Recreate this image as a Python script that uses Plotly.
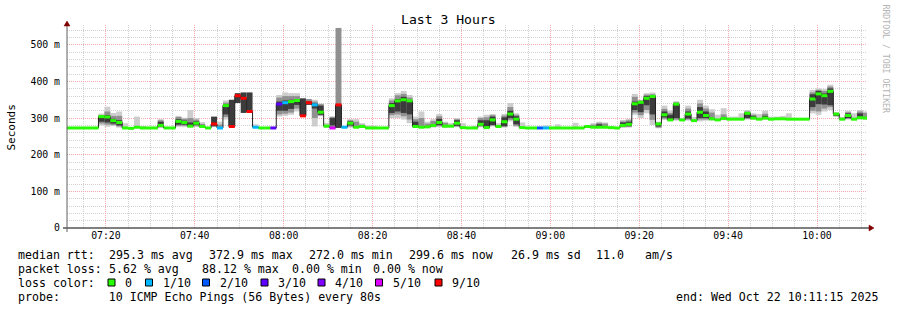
import plotly.graph_objects as go
from datetime import datetime, timedelta

N = None
title_text = "Last 3 Hours"
y_label = "Seconds"
side_text = "RRDTOOL / TOBI OETIKER"
start_time = datetime(2025, 10, 22, 7, 10, 20)
step_seconds = 80
view_start = datetime(2025, 10, 22, 7, 11, 15)
view_end = datetime(2025, 10, 22, 10, 11, 15)

y_tick_vals = [0, 100, 200, 300, 400, 500]
y_tick_text = ["0", "100 m", "200 m", "300 m", "400 m", "500 m"]

# median rtt per 80 s sample (ms)
median = [
    273, 273, 273, 273, 273, 273, 304, 303, 293, 288,
    273, 272, 275, 273, 273, 273, 280, 273, 273, 291,
    288, 278, 286, 277, 273, 284, 273, 334, 277, 361,
    354, 318, 275, 273, 273, 273, 338, 342, 345, 348,
    306, 342, 336, 316, 278, 273, 336, 275, 286, 275,
    277, 273, 273, 273, 273, 334, 347, 350, 347, 277,
    275, 276, 280, 288, 278, 278, 286, 274, 273, 273,
    283, 274, 295, 277, 290, 311, 297, 274, 273, 273,
    273, 273, 273, 273, 273, 273, 273, 273, 277, 275,
    275, 275, 274, 273, 280, 283, 339, 343, 354, 359,
    284, 309, 295, 338, 295, 311, 293, 316, 307, 298,
    295, 299, 297, 297, 297, 313, 300, 297, 300, 297,
    298, 298, 297, 297, 297, 297, 352, 366, 361, 373,
    311, 297, 307, 297, 301, 300,
]

# lost pings out of 10 per sample
loss = [
    0, 0, 0, 0, 0, 0, 0, 0, 0, 0,
    0, 0, 0, 0, 0, 0, 0, 0, 0, 0,
    0, 0, 0, 0, 0, 9, 1, 0, 9, 9,
    9, 9, 1, 0, 0, 3, 3, 1, 0, 0,
    9, 9, 1, 0, 0, 5, 9, 1, 0, 0,
    0, 0, 0, 0, 0, 0, 0, 0, 0, 0,
    0, 0, 0, 0, 0, 0, 0, 0, 0, 0,
    0, 0, 0, 0, 0, 0, 0, 0, 0, 0,
    2, 1, 0, 0, 0, 0, 0, 0, 0, 0,
    0, 0, 0, 0, 0, 0, 0, 0, 0, 0,
    0, 0, 0, 0, 0, 0, 0, 0, 0, 0,
    0, 0, 0, 0, 0, 0, 0, 0, 0, 0,
    0, 0, 0, 0, 0, 0, 0, 0, 0, 0,
    0, 0, 0, 0, 0, 0,
]

# outer (light) smoke band
light_lo = [
    N, N, N, N, N, N, 280, 276, 278, 274,
    273, N, 273, 273, N, N, 273, N, N, 276,
    276, 274, 276, 274, N, N, 273, 296, N, N,
    N, N, 273, N, N, N, 304, 306, 309, 318,
    N, N, 277, 305, 273, N, N, N, 274, 273,
    273, 273, 273, N, N, 300, 300, 296, 286, 273,
    273, 273, 274, 275, 274, 274, 275, 273, N, 273,
    275, 273, 277, 274, 274, 291, 276, 273, N, N,
    N, 273, N, 273, N, N, 273, N, 273, 273,
    273, 273, N, N, 274, 274, 309, 300, 313, 281,
    272, 295, 293, 293, 295, 293, 293, 291, 293, 293,
    294, 294, 295, 295, 295, 296, 296, 296, 296, 296,
    296, 296, 296, 296, N, N, 313, 309, 318, 322,
    304, 296, 296, 296, 296, 296,
]
light_hi = [
    N, N, N, N, N, N, 312, 331, 314, 318,
    286, N, 304, 277, N, N, 297, N, N, 306,
    301, 322, 300, 289, N, N, 290, 348, N, N,
    N, N, 283, N, N, N, 363, 370, 368, 368,
    N, N, 350, 340, 287, N, N, N, 297, 297,
    286, 280, 279, N, N, 354, 368, 374, 363, 304,
    318, 290, 297, 311, 290, 286, 300, 286, N, 279,
    304, 309, 311, 286, 311, 341, 313, 288, N, N,
    N, 280, N, 283, N, N, 287, N, 281, 286,
    290, 288, N, N, 295, 298, 366, 350, 368, 370,
    290, 334, 320, 346, 300, 334, 303, 350, 334, 324,
    309, 327, 304, 304, 313, 322, 313, 311, 320, 304,
    304, 306, 313, 300, N, N, 377, 381, 379, 391,
    316, 303, 320, 313, 322, 318,
]

# middle smoke band
mid_lo = [
    N, N, N, N, N, N, 285, 282, 281, 277,
    N, N, N, N, N, N, 275, N, N, 279,
    279, 276, 278, 275, N, N, 273, 303, N, N,
    N, N, N, N, N, N, 310, 312, 315, 326,
    N, 338, 300, 307, N, 275, 336, N, 277, 274,
    274, N, N, N, N, 308, 310, 305, 296, 275,
    274, 274, 276, 278, 275, N, 277, N, N, N,
    277, 274, 279, N, 276, 295, 279, N, N, N,
    N, N, N, N, N, N, N, N, N, 274,
    274, 273, N, N, 275, 276, 315, 308, 322, 295,
    274, 298, 295, 296, N, 296, N, 296, 296, 295,
    N, 295, N, N, N, 298, 297, N, 297, N,
    N, N, N, N, N, N, 320, 318, 326, 330,
    305, N, 298, N, 298, 298,
]
mid_hi = [
    N, N, N, N, N, N, 308, 318, 306, 306,
    N, N, N, N, N, N, 294, N, N, 303,
    298, 300, 296, 284, N, N, 282, 342, N, N,
    N, N, N, N, N, N, 356, 360, 360, 360,
    N, 352, 345, 338, N, 304, 546, N, 294, 290,
    282, N, N, N, N, 348, 362, 366, 356, 297,
    300, 285, 292, 305, 287, N, 297, N, N, N,
    300, 302, 308, N, 307, 330, 309, N, N, N,
    N, N, N, N, N, N, N, N, N, 282,
    287, 285, N, N, 291, 294, 358, 348, 364, 365,
    288, 325, 314, 343, N, 326, N, 340, 326, 315,
    N, 310, N, N, N, 318, 309, N, 312, N,
    N, N, N, N, N, N, 370, 377, 374, 386,
    314, N, 316, N, 318, 314,
]

# inner (dark) smoke band
dark_lo = [
    N, N, N, N, N, N, 290, 288, 285, 280,
    N, N, N, N, N, N, 277, N, N, 282,
    282, 277, 281, N, N, 277, N, 310, 277, 341,
    314, 318, N, N, N, N, 320, 320, 325, 336,
    306, 336, 326, 309, N, 280, 273, N, 280, N,
    N, N, N, N, N, 314, 318, 314, 310, 277,
    N, N, N, 281, N, N, 279, N, N, N,
    279, 275, 281, N, 278, 300, 283, N, N, N,
    N, N, N, N, N, N, N, N, N, N,
    276, N, N, N, 277, 278, 322, 316, 335, 310,
    277, 302, 297, 300, N, 299, N, 300, 300, N,
    N, N, N, N, N, 300, 298, N, 298, N,
    N, N, N, N, N, N, 330, 338, 337, 335,
    306, N, 300, N, 300, N,
]
dark_hi = [
    N, N, N, N, N, N, 303, 308, 298, 294,
    N, N, N, N, N, N, 290, N, N, 297,
    293, 288, 291, N, N, 304, N, 338, 350, 368,
    370, 370, N, N, N, N, 345, 348, 350, 352,
    354, 346, 340, 334, N, 300, 336, N, 291, N,
    N, N, N, N, N, 341, 352, 358, 348, 290,
    N, N, N, 298, N, N, 294, N, N, N,
    294, 294, 304, N, 302, 320, 305, N, N, N,
    N, N, N, N, N, N, N, N, N, N,
    283, N, N, N, 288, 290, 345, 345, 360, 362,
    286, 318, 309, 338, N, 318, N, 330, 318, N,
    N, N, N, N, N, 315, 306, N, 306, N,
    N, N, N, N, N, N, 365, 374, 367, 381,
    313, N, 313, N, 313, N,
]

loss_thresholds = [0, 1, 2, 3, 4, 5, 9]
loss_labels = ["0", "1/10", "2/10", "3/10", "4/10", "5/10", "9/10"]
loss_colors = ["#26ff00", "#00b8ff", "#0059ff", "#5e00ff", "#7e00ff", "#dd00ff", "#ff0000"]

legend_line1 = ["median rtt:", "295.3 ms avg", "372.9 ms max", "272.0 ms min",
                "299.6 ms now", "26.9 ms sd", "11.0", "am/s"]
legend_line1_x = [16, 107.3, 207.3, 307.3, 407.3, 509, 594, 642.7]
legend_line2 = ["packet loss:", "5.62 % avg", "88.12 % max", "0.00 % min", "0.00 % now"]
legend_line2_x = [16, 107.3, 200, 290, 371]
probe_text = "probe:       10 ICMP Echo Pings (56 Bytes) every 80s"
end_text = "end: Wed Oct 22 10:11:15 2025"

MONO = "DejaVu Sans Mono"
PL, PR, PT, PB = 67, 867, 25, 228   # plot box in page pixels


def px_x(x):
    return (x - PL) / (PR - PL)


def px_y(y):
    return (PB - y) / (PB - PT)


step = timedelta(seconds=step_seconds)
n = len(median)
lefts = [start_time + i * step for i in range(n)]
rights = [start_time + (i + 1) * step for i in range(n)]
centers = [start_time + i * step + step / 2 for i in range(n)]

fig = go.Figure()


def band(lo, hi, color):
    heights = [(h - l) if (h is not None and l is not None) else None for l, h in zip(lo, hi)]
    fig.add_trace(go.Bar(x=centers, y=heights, base=[l if l is not None else 0 for l in lo],
                         width=step_seconds * 1000, marker=dict(color=color, line=dict(width=0)),
                         hoverinfo="skip", showlegend=False))


band(light_lo, light_hi, "#cdcdcd")
band(mid_lo, mid_hi, "#909090")
band(dark_lo, dark_hi, "#3c3c3c")

# median staircase
fig.add_trace(go.Scatter(x=lefts + [rights[-1]], y=median + [median[-1]], mode="lines",
                         line=dict(shape="hv", color="#202020", width=1),
                         hoverinfo="skip", showlegend=False))


def loss_class(v):
    k = 0
    for j, t in enumerate(loss_thresholds):
        if v >= t:
            k = j
    return k


for j, col in enumerate(loss_colors):
    xs, ys = [], []
    for i in range(n):
        if loss_class(loss[i]) == j:
            xs += [lefts[i], rights[i], None]
            ys += [median[i], median[i], None]
    if xs:
        fig.add_trace(go.Scatter(x=xs, y=ys, mode="lines", line=dict(color=col, width=3),
                                 hoverinfo="skip", showlegend=False))

shapes = []
# axes
shapes.append(dict(type="line", xref="paper", yref="paper", x0=px_x(63), x1=px_x(870),
                   y0=0, y1=0, line=dict(color="#000000", width=1)))
shapes.append(dict(type="line", xref="paper", yref="paper", x0=0, x1=0,
                   y0=px_y(232), y1=px_y(24), line=dict(color="#606060", width=1)))
# arrows
shapes.append(dict(type="path", xref="paper", yref="paper",
                   path=f"M {px_x(869)} {px_y(225)} L {px_x(874)} {px_y(228)} L {px_x(869)} {px_y(231)} Z",
                   fillcolor="#800000", line=dict(color="#800000", width=0.5)))
shapes.append(dict(type="path", xref="paper", yref="paper",
                   path=f"M {px_x(64)} {px_y(26)} L {px_x(67)} {px_y(21)} L {px_x(70)} {px_y(26)} Z",
                   fillcolor="#800000", line=dict(color="#800000", width=0.5)))

annotations = []


def text(x, y, s, size=11.6, anchor="left", color="#000000", angle=0):
    annotations.append(dict(x=px_x(x), y=px_y(y), xref="paper", yref="paper", text=s,
                            showarrow=False, xanchor=anchor, yanchor="middle", textangle=angle,
                            font=dict(family=MONO, size=size, color=color)))


text(448, 19.5, title_text, size=13.1, anchor="center")
text(11, 127.5, y_label, size=11, anchor="center", angle=-90)
text(885.5, 59, side_text, size=8.2, anchor="center", color="#b4b4b4", angle=90)

for s, x in zip(legend_line1, legend_line1_x):
    text(x, 254.5, s)
for s, x in zip(legend_line2, legend_line2_x):
    text(x, 268.5, s)
text(16, 282.5, "loss color:")
square_x = [108, 145.5, 202.5, 261, 318, 375.5, 435]
for sx, col, lab in zip(square_x, loss_colors, loss_labels):
    shapes.append(dict(type="rect", xref="paper", yref="paper", x0=px_x(sx), x1=px_x(sx + 7),
                       y0=px_y(286), y1=px_y(279), fillcolor=col, line=dict(color="#000000", width=1)))
    text(sx + 15, 282.5, lab)
text(16, 296.5, probe_text)
text(880, 296.5, end_text, anchor="right")

fig.update_layout(
    width=897, height=310, margin=dict(l=PL, r=897 - PR, t=PT, b=310 - PB, pad=0),
    paper_bgcolor="#ffffff", plot_bgcolor="#ffffff", barmode="overlay", showlegend=False,
    shapes=shapes, annotations=annotations,
    font=dict(family=MONO, size=9.8, color="#000000"),
)
fig.update_xaxes(type="date", range=[view_start, view_end], tick0="2025-10-22 07:00:00",
                 dtick=20 * 60 * 1000, tickformat="%H:%M", showline=False, zeroline=False,
                 showgrid=True, gridcolor="#f2aaaa", griddash="1px,1px", gridwidth=1,
                 ticks="", tickfont=dict(family=MONO, size=9.8, color="#000000"),
                 minor=dict(dtick=5 * 60 * 1000, showgrid=True, gridcolor="#d2d2d2",
                            griddash="1px,1px", gridwidth=1))
fig.update_yaxes(range=[0, 554], tickvals=y_tick_vals, ticktext=y_tick_text, showline=False,
                 zeroline=False, showgrid=True, gridcolor="#f2aaaa", griddash="1px,1px",
                 gridwidth=1, ticks="", ticklabelstandoff=6,
                 tickfont=dict(family=MONO, size=9.8, color="#000000"),
                 minor=dict(dtick=20, showgrid=True, gridcolor="#d2d2d2", griddash="1px,1px",
                            gridwidth=1))

fig.write_html("out.html")
